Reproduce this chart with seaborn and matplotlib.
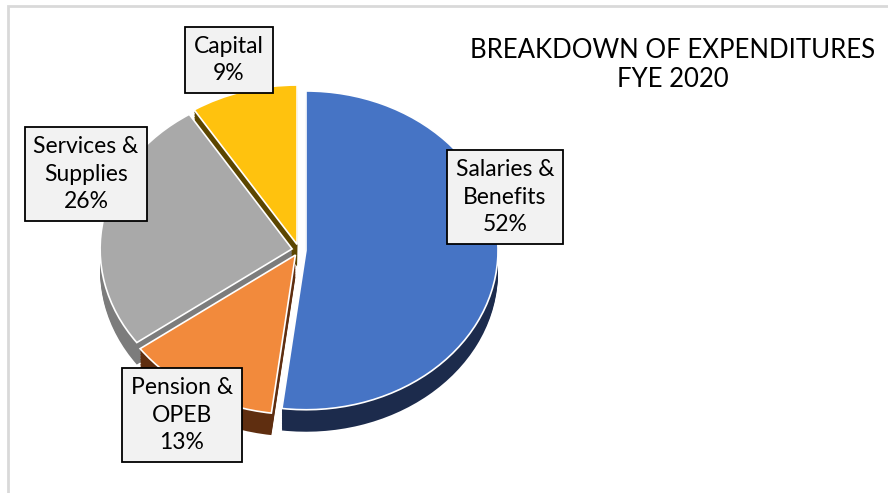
import numpy as np
import matplotlib.pyplot as plt
import matplotlib.patches as mpatches
import seaborn as sns

# Data
categories = ["Salaries &\nBenefits", "Pension &\nOPEB", "Services &\nSupplies", "Capital"]
shares = [52, 13, 26, 9]

top_colors = ["#4674C5", "#F28A3C", "#A9A9A9", "#FFC20E"]
side_colors = ["#1C2B4C", "#5F2E10", "#7C7C7C", "#5C4600"]

sns.set_theme(style="white")
plt.rcParams['font.family'] = ['Lato', 'DejaVu Sans']

W, H = 888, 493
k = 0.83  # vertical squash of the pie (tilt)

fig = plt.figure(figsize=(W / 100, H / 100), dpi=100)
ax = fig.add_axes([0, 0, 1, 1])


def to_data(px, py):
    return px, (H - py) / k


cx, cy = to_data(299, 250)
radius = 192
depth = 22 / k
# pie explode is in data units here
explode = [7, 7, 7, 7]

# extruded side
for d in np.linspace(depth, 1, 14):
    ax.pie(shares, colors=side_colors, startangle=90, counterclock=False,
           explode=explode, radius=radius, center=(cx, cy - d), frame=True,
           wedgeprops=dict(edgecolor="none", linewidth=0))

# top face
ax.pie(shares, colors=top_colors, startangle=90, counterclock=False,
       explode=explode, radius=radius, center=(cx, cy), frame=True,
       wedgeprops=dict(edgecolor="white", linewidth=1.2))

ax.set_xlim(0, W)
ax.set_ylim(0, H / k)
ax.set_aspect("auto")
ax.axis("off")

# data labels
label_pos = [(505, 197), (182, 415), (86, 174), (229, 60)]
for name, val, (px, py) in zip(categories, shares, label_pos):
    fig.text(px / W, 1 - py / H, f"{name}\n{val}%", ha="center", va="center",
             fontsize=16.5, linespacing=1.4, color="black",
             bbox=dict(boxstyle="square,pad=0.38", facecolor="#F2F2F2",
                       edgecolor="black", linewidth=1.3))

# title
fig.text(673 / W, 1 - 65 / H, "BREAKDOWN OF EXPENDITURES\nFYE 2020",
         ha="center", va="center", fontsize=18.5, linespacing=1.17, color="black")

# chart frame
fig.patches.append(mpatches.Rectangle((8 / W, -0.1), 1.2, 1 - 6 / H + 0.1,
                                      transform=fig.transFigure, fill=False,
                                      edgecolor="#D9D9D9", linewidth=2))

fig.savefig("out.png", dpi=100)
